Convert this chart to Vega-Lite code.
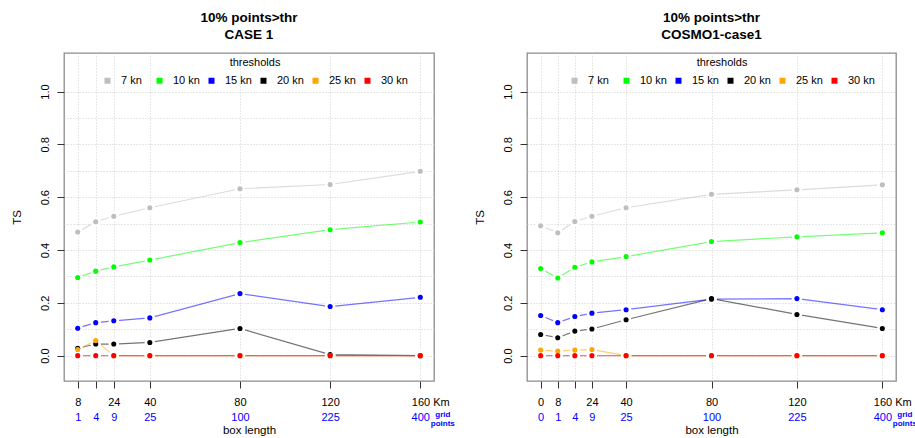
{
  "$schema": "https://vega.github.io/schema/vega-lite/v6.json",
  "background": "white",
  "padding": {"left": 10, "top": 9, "right": 0, "bottom": 0},
  "config": {
    "font": "Liberation Sans",
    "view": {"stroke": "#8c8c8c", "strokeWidth": 1.3},
    "axis": {"labelFont": "Liberation Sans", "titleFont": "Liberation Sans", "labelColor": "#000", "titleColor": "#000", "labelFontSize": 11, "titleFontSize": 11.5, "titleFontWeight": "normal", "labelFlush": false, "labelOverlap": false, "tickColor": "#333", "gridColor": "#cfcfcf", "gridDash": [1, 2]},
    "legend": {"labelFont": "Liberation Sans", "titleFont": "Liberation Sans"}
  },
  "datasets": {
    "left": [
      {"km": 8, "thr": "7 kn", "ts": 0.468}, {"km": 16, "thr": "7 kn", "ts": 0.507}, {"km": 24, "thr": "7 kn", "ts": 0.528}, {"km": 40, "thr": "7 kn", "ts": 0.560}, {"km": 80, "thr": "7 kn", "ts": 0.632}, {"km": 120, "thr": "7 kn", "ts": 0.648}, {"km": 160, "thr": "7 kn", "ts": 0.698},
      {"km": 8, "thr": "10 kn", "ts": 0.296}, {"km": 16, "thr": "10 kn", "ts": 0.320}, {"km": 24, "thr": "10 kn", "ts": 0.336}, {"km": 40, "thr": "10 kn", "ts": 0.362}, {"km": 80, "thr": "10 kn", "ts": 0.428}, {"km": 120, "thr": "10 kn", "ts": 0.477}, {"km": 160, "thr": "10 kn", "ts": 0.506},
      {"km": 8, "thr": "15 kn", "ts": 0.104}, {"km": 16, "thr": "15 kn", "ts": 0.125}, {"km": 24, "thr": "15 kn", "ts": 0.132}, {"km": 40, "thr": "15 kn", "ts": 0.143}, {"km": 80, "thr": "15 kn", "ts": 0.235}, {"km": 120, "thr": "15 kn", "ts": 0.186}, {"km": 160, "thr": "15 kn", "ts": 0.221},
      {"km": 8, "thr": "20 kn", "ts": 0.028}, {"km": 16, "thr": "20 kn", "ts": 0.044}, {"km": 24, "thr": "20 kn", "ts": 0.044}, {"km": 40, "thr": "20 kn", "ts": 0.050}, {"km": 80, "thr": "20 kn", "ts": 0.103}, {"km": 120, "thr": "20 kn", "ts": 0.004}, {"km": 160, "thr": "20 kn", "ts": 0.0},
      {"km": 8, "thr": "25 kn", "ts": 0.023}, {"km": 16, "thr": "25 kn", "ts": 0.057}, {"km": 24, "thr": "25 kn", "ts": 0.0}, {"km": 40, "thr": "25 kn", "ts": 0.0}, {"km": 80, "thr": "25 kn", "ts": 0.0}, {"km": 120, "thr": "25 kn", "ts": 0.0}, {"km": 160, "thr": "25 kn", "ts": 0.0},
      {"km": 8, "thr": "30 kn", "ts": 0.0}, {"km": 16, "thr": "30 kn", "ts": 0.0}, {"km": 24, "thr": "30 kn", "ts": 0.0}, {"km": 40, "thr": "30 kn", "ts": 0.0}, {"km": 80, "thr": "30 kn", "ts": 0.0}, {"km": 120, "thr": "30 kn", "ts": 0.0}, {"km": 160, "thr": "30 kn", "ts": 0.0}
    ],
    "right": [
      {"km": 0, "thr": "7 kn", "ts": 0.492}, {"km": 8, "thr": "7 kn", "ts": 0.465}, {"km": 16, "thr": "7 kn", "ts": 0.508}, {"km": 24, "thr": "7 kn", "ts": 0.528}, {"km": 40, "thr": "7 kn", "ts": 0.560}, {"km": 80, "thr": "7 kn", "ts": 0.611}, {"km": 120, "thr": "7 kn", "ts": 0.628}, {"km": 160, "thr": "7 kn", "ts": 0.647},
      {"km": 0, "thr": "10 kn", "ts": 0.330}, {"km": 8, "thr": "10 kn", "ts": 0.294}, {"km": 16, "thr": "10 kn", "ts": 0.335}, {"km": 24, "thr": "10 kn", "ts": 0.355}, {"km": 40, "thr": "10 kn", "ts": 0.375}, {"km": 80, "thr": "10 kn", "ts": 0.432}, {"km": 120, "thr": "10 kn", "ts": 0.450}, {"km": 160, "thr": "10 kn", "ts": 0.465},
      {"km": 0, "thr": "15 kn", "ts": 0.152}, {"km": 8, "thr": "15 kn", "ts": 0.125}, {"km": 16, "thr": "15 kn", "ts": 0.148}, {"km": 24, "thr": "15 kn", "ts": 0.161}, {"km": 40, "thr": "15 kn", "ts": 0.174}, {"km": 80, "thr": "15 kn", "ts": 0.214}, {"km": 120, "thr": "15 kn", "ts": 0.216}, {"km": 160, "thr": "15 kn", "ts": 0.174},
      {"km": 0, "thr": "20 kn", "ts": 0.080}, {"km": 8, "thr": "20 kn", "ts": 0.068}, {"km": 16, "thr": "20 kn", "ts": 0.093}, {"km": 24, "thr": "20 kn", "ts": 0.101}, {"km": 40, "thr": "20 kn", "ts": 0.136}, {"km": 80, "thr": "20 kn", "ts": 0.216}, {"km": 120, "thr": "20 kn", "ts": 0.156}, {"km": 160, "thr": "20 kn", "ts": 0.103},
      {"km": 0, "thr": "25 kn", "ts": 0.021}, {"km": 8, "thr": "25 kn", "ts": 0.017}, {"km": 16, "thr": "25 kn", "ts": 0.021}, {"km": 24, "thr": "25 kn", "ts": 0.023}, {"km": 40, "thr": "25 kn", "ts": 0.0}, {"km": 80, "thr": "25 kn", "ts": 0.0}, {"km": 120, "thr": "25 kn", "ts": 0.0}, {"km": 160, "thr": "25 kn", "ts": 0.0},
      {"km": 0, "thr": "30 kn", "ts": 0.0}, {"km": 8, "thr": "30 kn", "ts": 0.0}, {"km": 16, "thr": "30 kn", "ts": 0.0}, {"km": 24, "thr": "30 kn", "ts": 0.0}, {"km": 40, "thr": "30 kn", "ts": 0.0}, {"km": 80, "thr": "30 kn", "ts": 0.0}, {"km": 120, "thr": "30 kn", "ts": 0.0}, {"km": 160, "thr": "30 kn", "ts": 0.0}
    ]
  },
  "bounds": "flush",
  "spacing": 93,
  "resolve": {"legend": {"color": "independent"}, "scale": {"x": "independent"}},
  "hconcat": [
    {
      "width": 370,
      "height": 328,
      "data": {"name": "left"},
      "title": {"text": ["10% points>thr", "CASE 1"], "font": "Liberation Sans", "fontSize": 13.5, "fontWeight": "bold", "lineHeight": 17, "anchor": "middle", "offset": 12, "color": "#000"},
      "resolve": {"axis": {"x": "independent"}},
      "encoding": {
        "y": {"field": "ts", "type": "quantitative", "scale": {"domain": [-0.096, 1.146], "nice": false, "zero": false},
          "axis": {"values": [0, 0.1, 0.2, 0.3, 0.4, 0.5, 0.6, 0.7, 0.8, 0.9, 1.0], "labelExpr": "(round(datum.value*10)%2==0)?format(datum.value,'.1f'):''", "tickOpacity": {"condition": {"test": "round(datum.value*10)%2==0", "value": 1}, "value": 0}, "tickSize": 7, "labelAngle": -90, "labelPadding": 7, "title": "TS", "titlePadding": 17, "domain": false, "grid": true}}
      },
      "layer": [
        {
          "mark": {"type": "line", "strokeWidth": 1.2, "strokeOpacity": 0.55},
          "encoding": {
            "x": {"field": "km", "type": "quantitative", "scale": {"domain": [1.92, 166.08], "nice": false, "zero": false},
              "axis": {"orient": "bottom", "values": [8, 16, 24, 40, 80, 120, 160], "labelExpr": "datum.value==16?'':(datum.value==160?'160 Km':datum.label)", "format": "d", "title": null, "domain": false, "tickSize": 7, "labelPadding": 8,
                "labelAlign": {"condition": {"test": "datum.value==160", "value": "left"}, "value": "center"},
                "labelOffset": {"condition": {"test": "datum.value==160", "value": -9}, "value": 0}, "grid": true}},
            "stroke": {"field": "thr", "type": "nominal", "scale": {"domain": ["7 kn", "10 kn", "15 kn", "20 kn", "25 kn", "30 kn"], "range": ["#bebebe", "#00ff00", "#0000ff", "#000000", "#ffa500", "#ff0000"]}, "legend": null}
          }
        },
        {
          "mark": {"type": "point", "filled": true, "size": 110, "color": "white", "opacity": 1},
          "encoding": {
            "x": {"field": "km", "type": "quantitative", "scale": {"domain": [1.92, 166.08], "nice": false, "zero": false},
              "axis": {"orient": "bottom", "values": [8, 16, 24, 40, 80, 120, 160], "labelExpr": "datum.value==8?'1':datum.value==16?'4':datum.value==24?'9':datum.value==40?'25':datum.value==80?'100':datum.value==120?'225':'400'", "ticks": false, "domain": false, "grid": false, "labelPadding": 30, "labelColor": "#0000ff", "title": "box length", "titlePadding": 2}}
          }
        },
        {
          "mark": {"type": "point", "filled": true, "size": 26, "opacity": 1},
          "encoding": {
            "x": {"field": "km", "type": "quantitative", "scale": {"domain": [1.92, 166.08], "nice": false, "zero": false},
              "axis": {"orient": "bottom", "values": [160], "labelExpr": "['grid','points']", "labelFontSize": 8, "labelFontWeight": "bold", "labelColor": "#0000ff", "labelOffset": 22, "labelPadding": 29, "labelLineHeight": 9, "ticks": false, "domain": false, "grid": false, "title": null}},
            "color": {"field": "thr", "type": "nominal", "scale": {"domain": ["7 kn", "10 kn", "15 kn", "20 kn", "25 kn", "30 kn"], "range": ["#bebebe", "#00ff00", "#0000ff", "#000000", "#ffa500", "#ff0000"]},
              "legend": {"orient": "none", "legendX": 38, "legendY": 4, "direction": "horizontal", "columns": 6, "gridAlign": "all", "title": "thresholds", "titleAnchor": "middle", "titleAlign": "center", "titleFontWeight": "normal", "titleFontSize": 11, "titlePadding": 7, "symbolType": "square", "symbolSize": 36, "symbolStrokeWidth": 0, "symbolOpacity": 1, "labelFontSize": 11, "labelOffset": 8, "columnPadding": 6, "padding": 0, "labelColor": "#000", "titleColor": "#000"}}
          }
        }
      ]
    },
    {
      "width": 369,
      "height": 328,
      "data": {"name": "right"},
      "title": {"text": ["10% points>thr", "COSMO1-case1"], "font": "Liberation Sans", "fontSize": 13.5, "fontWeight": "bold", "lineHeight": 17, "anchor": "middle", "offset": 12, "color": "#000"},
      "resolve": {"axis": {"x": "independent"}},
      "encoding": {
        "y": {"field": "ts", "type": "quantitative", "scale": {"domain": [-0.096, 1.146], "nice": false, "zero": false},
          "axis": {"values": [0, 0.1, 0.2, 0.3, 0.4, 0.5, 0.6, 0.7, 0.8, 0.9, 1.0], "labelExpr": "(round(datum.value*10)%2==0)?format(datum.value,'.1f'):''", "tickOpacity": {"condition": {"test": "round(datum.value*10)%2==0", "value": 1}, "value": 0}, "tickSize": 7, "labelAngle": -90, "labelPadding": 7, "title": "TS", "titlePadding": 17, "domain": false, "grid": true}}
      },
      "layer": [
        {
          "mark": {"type": "line", "strokeWidth": 1.2, "strokeOpacity": 0.55},
          "encoding": {
            "x": {"field": "km", "type": "quantitative", "scale": {"domain": [-6.4, 166.4], "nice": false, "zero": false},
              "axis": {"orient": "bottom", "values": [0, 8, 16, 24, 40, 80, 120, 160], "labelExpr": "datum.value==16?'':(datum.value==160?'160 Km':datum.label)", "format": "d", "title": null, "domain": false, "tickSize": 7, "labelPadding": 8,
                "labelAlign": {"condition": {"test": "datum.value==160", "value": "left"}, "value": "center"},
                "labelOffset": {"condition": {"test": "datum.value==160", "value": -9}, "value": 0}, "grid": true}},
            "stroke": {"field": "thr", "type": "nominal", "scale": {"domain": ["7 kn", "10 kn", "15 kn", "20 kn", "25 kn", "30 kn"], "range": ["#bebebe", "#00ff00", "#0000ff", "#000000", "#ffa500", "#ff0000"]}, "legend": null}
          }
        },
        {
          "mark": {"type": "point", "filled": true, "size": 110, "color": "white", "opacity": 1},
          "encoding": {
            "x": {"field": "km", "type": "quantitative", "scale": {"domain": [-6.4, 166.4], "nice": false, "zero": false},
              "axis": {"orient": "bottom", "values": [0, 8, 16, 24, 40, 80, 120, 160], "labelExpr": "datum.value==0?'0':datum.value==8?'1':datum.value==16?'4':datum.value==24?'9':datum.value==40?'25':datum.value==80?'100':datum.value==120?'225':'400'", "ticks": false, "domain": false, "grid": false, "labelPadding": 30, "labelColor": "#0000ff", "title": "box length", "titlePadding": 2}}
          }
        },
        {
          "mark": {"type": "point", "filled": true, "size": 26, "opacity": 1},
          "encoding": {
            "x": {"field": "km", "type": "quantitative", "scale": {"domain": [-6.4, 166.4], "nice": false, "zero": false},
              "axis": {"orient": "bottom", "values": [160], "labelExpr": "['grid','points']", "labelFontSize": 8, "labelFontWeight": "bold", "labelColor": "#0000ff", "labelOffset": 22, "labelPadding": 29, "labelLineHeight": 9, "ticks": false, "domain": false, "grid": false, "title": null}},
            "color": {"field": "thr", "type": "nominal", "scale": {"domain": ["7 kn", "10 kn", "15 kn", "20 kn", "25 kn", "30 kn"], "range": ["#bebebe", "#00ff00", "#0000ff", "#000000", "#ffa500", "#ff0000"]},
              "legend": {"orient": "none", "legendX": 42, "legendY": 4, "direction": "horizontal", "columns": 6, "gridAlign": "all", "title": "thresholds", "titleAnchor": "middle", "titleAlign": "center", "titleFontWeight": "normal", "titleFontSize": 11, "titlePadding": 7, "symbolType": "square", "symbolSize": 36, "symbolStrokeWidth": 0, "symbolOpacity": 1, "labelFontSize": 11, "labelOffset": 8, "columnPadding": 6, "padding": 0, "labelColor": "#000", "titleColor": "#000"}}
          }
        }
      ]
    }
  ]
}
